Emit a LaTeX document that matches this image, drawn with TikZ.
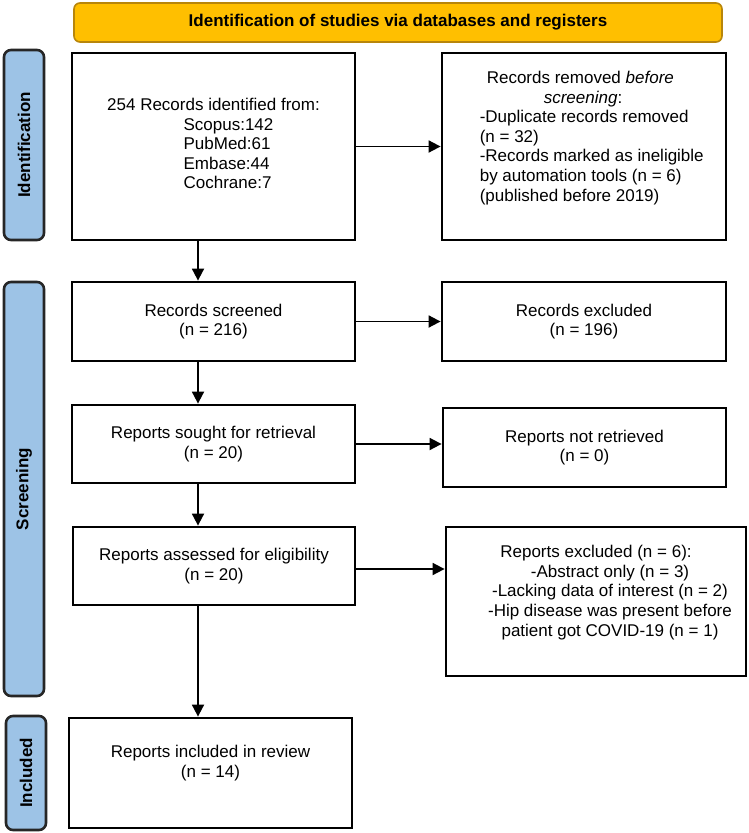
\documentclass[tikz,border=0pt]{standalone}
\usepackage{fontspec}
\setmainfont{Liberation Sans}
\usetikzlibrary{arrows.meta}
\definecolor{bannergold}{HTML}{FFBF00}
\definecolor{bannerline}{HTML}{B8860B}
\definecolor{stageblue}{HTML}{9DC3E6}
\begin{document}
\begin{tikzpicture}
		[x=1pt, y=-1pt,
		every node/.style={inner sep=0pt, font=\fontsize{17}{19.6}\selectfont},
		box/.style={draw, line width=2.8pt, minimum width=283pt, align=center},
		stage/.style={draw=black!85, fill=stageblue, line width=2.6pt, rounded corners=7pt, minimum width=40pt},
		stagelabel/.style={rotate=90, font=\fontsize{17}{19.6}\selectfont\bfseries},
		flow/.style={line width=1.8pt, -{Triangle[length=12pt, width=12pt]}}]
		\useasboundingbox (0,0) rectangle (749,833);
		\coordinate (spine) at (198,0);
		
		\node[draw=bannerline, fill=bannergold, line width=1.6pt, rounded corners=6pt, minimum width=648pt, minimum height=39pt, font=\fontsize{17}{19.6}\selectfont\bfseries] (banner) at (398,22.5) {Identification of studies via databases and registers};
		
		\node[stage, minimum height=190pt] (idbar) at (24,145) {};
		\node[stagelabel] (idlabel) at (idbar.center) {Identification};
		\node[stage, minimum height=414pt] (scrbar) at (24,489) {};
		\node[stagelabel] (scrlabel) at (scrbar.center) {Screening};
		\node[stage, minimum height=114pt] (incbar) at (26,773) {};
		\node[stagelabel] (inclabel) at (incbar.center) {Included};
		
		\node[box, minimum height=187pt] (rec) at (213.5,146.5) {254 Records identified from:\\ \hspace*{30pt}\begin{tabular}[t]{@{}l@{}}Scopus:142\\PubMed:61\\Embase:44\\Cochrane:7\end{tabular}};
		\node[box, minimum width=284pt, minimum height=187pt] (removed) at (584,146.5) {};
		\node[align=left, anchor=west] (removedtext) at ([xshift=39pt, yshift=8.5pt]removed.west) {\hspace*{7pt}Records removed \textit{before}\\ \hspace*{64pt}\textit{screening}:\\ -Duplicate records removed\\ (n = 32)\\ -Records marked as ineligible\\ by automation tools (n = 6)\\ (published before 2019)};
		
		\node[box, minimum height=79pt] (screened) at (213.5,321.5) {Records screened\\(n = 216)};
		\node[box, minimum width=284pt, minimum height=79pt] (excluded) at (584,321.5) {Records excluded\\(n = 196)};
		\node[box, minimum height=78pt] (sought) at (213.5,444) {Reports sought for retrieval\\(n = 20)};
		\node[box, minimum height=79pt] (notret) at (584.5,447.5) {Reports not retrieved\\(n = 0)};
		\node[box, minimum width=282pt, minimum height=78pt] (assessed) at (214,566) {Reports assessed for eligibility\\(n = 20)};
		\node[box, minimum width=300pt, minimum height=149pt] (repexcl) at (596,601.5) {};
		\node[align=center] (repexcltext) at ([xshift=14pt, yshift=9pt]repexcl.center) {Reports excluded (n = 6):\hspace*{28pt}\\ -Abstract only (n = 3)\\ -Lacking data of interest (n = 2)\\ -Hip disease was present before\\ patient got COVID-19 (n = 1)};
		\node[box, minimum height=110pt] (included) at (210.5,773) {};
		\node[align=center] (includedtext) at ([yshift=10pt]included.center) {Reports included in review\\(n = 14)};
		
		\path[flow] (rec.east) edge (removed.west);
		\path[flow] (screened.east) edge (excluded.west);
		\path[flow] (sought.east) edge (sought.east -| notret.west);
		\path[flow] ([yshift=-3pt]assessed.east) edge ([yshift=-3pt]assessed.east -| repexcl.west);
		\path[flow] (rec.south -| spine) edge (screened.north -| spine);
		\path[flow] (screened.south -| spine) edge (sought.north -| spine);
		\path[flow] (sought.south -| spine) edge (assessed.north -| spine);
		\path[flow] (assessed.south -| spine) edge (included.north -| spine);
\end{tikzpicture}
\end{document}
